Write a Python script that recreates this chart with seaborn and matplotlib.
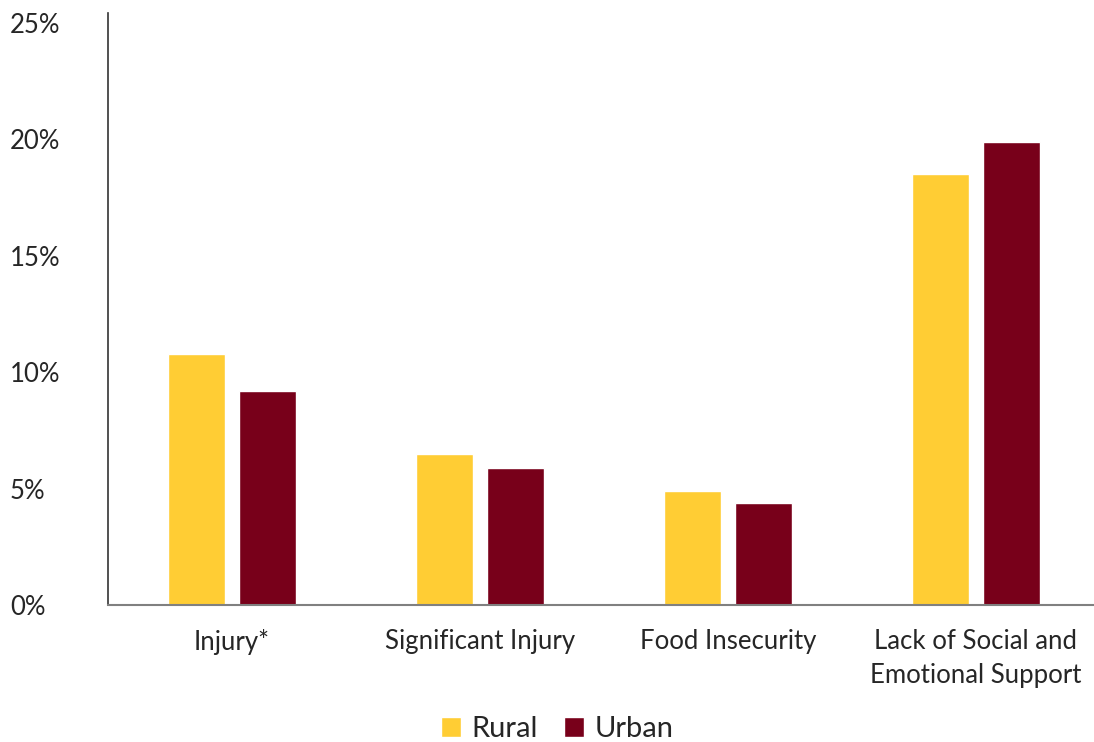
import matplotlib
matplotlib.use("Agg")
import matplotlib.pyplot as plt
import seaborn as sns
import pandas as pd
from matplotlib.patches import Patch

categories = ["Injury*", "Significant Injury", "Food Insecurity", "Lack of Social and\nEmotional Support"]
rural = [10.8, 6.5, 4.9, 18.5]
urban = [9.2, 5.9, 4.4, 19.9]
series = ["Rural", "Urban"]
colors = {"Rural": "#FFCD34", "Urban": "#78001A"}
yticks = [0, 5, 10, 15, 20, 25]

df = pd.DataFrame({
    "category": categories * 2,
    "value": rural + urban,
    "group": ["Rural"] * len(categories) + ["Urban"] * len(categories),
})

sns.set_style("white")
plt.rcParams['font.family'] = ['Lato', 'DejaVu Sans']

fig = plt.figure(figsize=(10.94, 7.42), dpi=100)
ax = fig.add_axes([108 / 1094, (742 - 605) / 742, 992 / 1094, 592 / 742])

sns.barplot(data=df, x="category", y="value", hue="group", palette=colors,
            width=0.573, gap=0.21, ax=ax, legend=False, saturation=1)

ax.set_ylim(0, 25.43)
ax.set_xlim(-0.5, len(categories) - 0.5)
ax.set_yticks(yticks)
ax.set_yticklabels([f"{t}%" for t in yticks])
ax.set_xlabel("")
ax.set_ylabel("")
for s in ["top", "right"]:
    ax.spines[s].set_visible(False)
ax.spines["left"].set_color("#333333")
ax.spines["bottom"].set_color("#808080")
ax.spines["left"].set_linewidth(1.2)
ax.spines["bottom"].set_linewidth(1.5)
ax.tick_params(axis="y", length=0, pad=0, labelsize=18.5)
ax.tick_params(axis="x", length=0, pad=17, labelsize=18.5)
for lbl in ax.get_yticklabels():
    lbl.set_horizontalalignment("left")
    lbl.set_x(-98 / 992)
for lbl in ax.get_xticklabels():
    lbl.set_linespacing(1.45)

handles = [Patch(facecolor=colors[s], label=s) for s in series]
fig.legend(handles=handles, loc="center", bbox_to_anchor=(557 / 1094, 1 - 729 / 742),
           ncol=2, frameon=False, fontsize=21, handlelength=0.7, handleheight=0.7,
           handletextpad=0.35, columnspacing=0.9)

fig.savefig("out.png", dpi=100)
